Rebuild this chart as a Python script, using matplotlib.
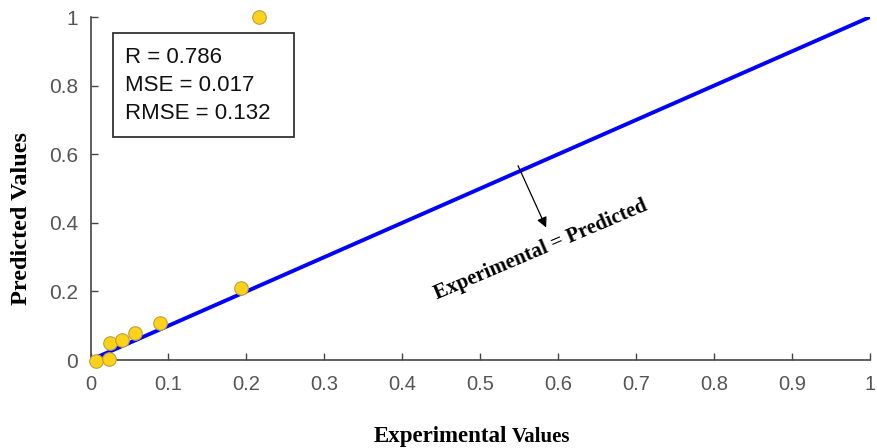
import matplotlib
matplotlib.use('Agg')
import matplotlib.pyplot as plt
from matplotlib.patches import Rectangle

# measured points (experimental vs predicted)
experimental = [0.007, 0.024, 0.025, 0.040, 0.057, 0.089, 0.193, 0.216]
predicted = [-0.004, 0.004, 0.050, 0.058, 0.079, 0.107, 0.210, 1.0]

# reference line endpoints (experimental = predicted)
line_x = [0.0, 1.0]
line_y = [0.0, 1.0]

x_ticks = [0, 0.1, 0.2, 0.3, 0.4, 0.5, 0.6, 0.7, 0.8, 0.9, 1]
x_tick_labels = ['0', '0.1', '0.2', '0.3', '0.4', '0.5', '0.6', '0.7', '0.8', '0.9', '1']
y_ticks = [0, 0.2, 0.4, 0.6, 0.8, 1]
y_tick_labels = ['0', '0.2', '0.4', '0.6', '0.8', '1']

stats_text = 'R = 0.786\nMSE = 0.017\nRMSE = 0.132'

SANS_FONT = ['Liberation Sans', 'DejaVu Sans']
SERIF_FONT = ['Liberation Serif', 'DejaVu Serif']

fig = plt.figure(figsize=(8.77, 4.48), dpi=100)
ax = fig.add_axes([0.1032, 0.1964, 0.8888, 0.7656])

ax.plot(line_x, line_y, color='#0000ff', lw=2.8, zorder=2)
ax.scatter(experimental, predicted, s=95, c='#ffd21a', edgecolors='#b8a040',
           linewidths=0.8, zorder=3, clip_on=False)

ax.set_xlim(0, 1)
ax.set_ylim(0, 1)
ax.set_xticks(x_ticks)
ax.set_xticklabels(x_tick_labels, family=SANS_FONT, fontsize=14.5, color='#555555')
ax.set_yticks(y_ticks)
ax.set_yticklabels(y_tick_labels, family=SANS_FONT, fontsize=15, color='#555555')
ax.tick_params(direction='in', length=5, width=1, color='#444444')
ax.tick_params(axis='x', pad=11)
ax.tick_params(axis='y', pad=9)

for side in ('top', 'right'):
    ax.spines[side].set_visible(False)
for side in ('left', 'bottom'):
    ax.spines[side].set_color('#444444')
    ax.spines[side].set_linewidth(1.2)

# stats box
ax.add_patch(Rectangle((0.029, 0.650), 0.232, 0.303, transform=ax.transData,
                       fill=False, edgecolor='#333333', lw=1.3, zorder=4))
ax.text(0.044, 0.800, stats_text, family=SANS_FONT,
        fontsize=16, va='center', ha='left', linespacing=1.45, color='#111111')

# annotation of the y = x line
ax.annotate('', xy=(0.586, 0.379), xytext=(0.547, 0.574),
            arrowprops=dict(arrowstyle='-|>', color='black', lw=0.9,
                            mutation_scale=15))
ax.text(0.578, 0.321, 'Experimental = Predicted', family=SERIF_FONT,
        fontweight='bold', fontsize=15, rotation=23, rotation_mode='anchor',
        ha='center', va='center')

fig.text(0.025, 0.513, 'Predicted Values', family=SERIF_FONT, fontweight='bold',
         fontsize=17.5, rotation=90, ha='center', va='center')
fig.text(0.578, 0.0134, 'Experimental', family=SERIF_FONT, fontweight='bold',
         fontsize=16.5, ha='right', va='baseline')
fig.text(0.584, 0.0134, 'Values', family=SERIF_FONT, fontweight='bold',
         fontsize=15, ha='left', va='baseline')

fig.savefig('out.png', dpi=100)
